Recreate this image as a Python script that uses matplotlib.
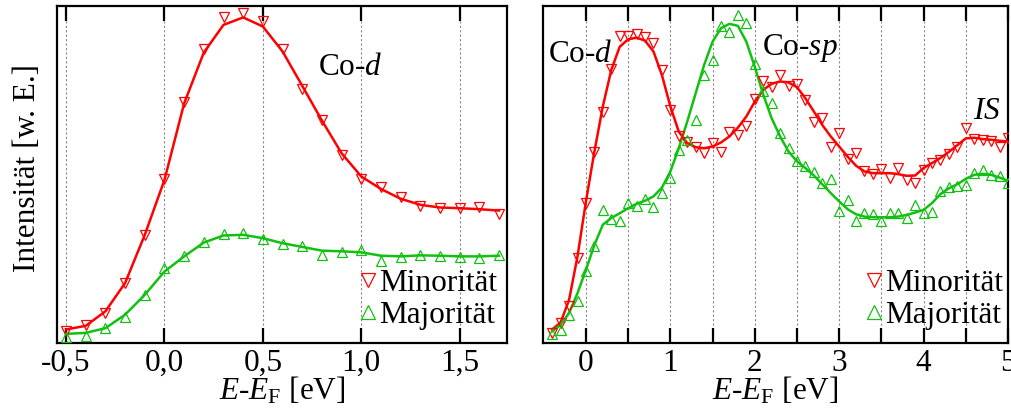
import matplotlib
matplotlib.use("Agg")
import matplotlib.pyplot as plt
import numpy as np

plt.rcParams['font.family'] = ['Liberation Serif', 'DejaVu Serif']
plt.rcParams['mathtext.fontset'] = 'custom'
plt.rcParams['mathtext.rm'] = 'Liberation Serif'
plt.rcParams['mathtext.it'] = 'Liberation Serif:italic'
plt.rcParams['font.size'] = 22.5

RED = '#ff0000'
GREEN = '#11c011'

# --- left panel: Co-d (values in % of axis height) ---
x_left = np.round(np.arange(-0.5, 1.71, 0.1), 2)
min_pts_l = [3.5, 5.4, 8.9, 17.8, 32.1, 48.7, 71.6, 87.2, 96.8, 97.8, 95.4, 87.2,
             75.3, 66.2, 55.8, 48.6, 46.4, 43.3, 40.7, 40.0, 40.0, 40.3, 38.3]
min_fit_l = [4.0, 5.1, 9.4, 17.8, 32.1, 48.4, 71.1, 86.2, 94.4, 96.6, 93.9, 86.5,
             76.3, 66.0, 56.3, 49.4, 45.7, 42.8, 41.0, 40.2, 40.0, 39.7, 39.3]
maj_pts_l = [1.8, 2.2, 4.4, 7.7, 14.3, 22.2, 25.7, 30.1, 32.4, 32.6, 30.8, 29.4,
             28.7, 26.2, 27.0, 27.7, 24.4, 25.4, 26.2, 25.7, 25.5, 25.2, 26.2]
maj_fit_l = [2.7, 3.0, 4.4, 8.4, 14.3, 21.2, 25.7, 29.8, 31.9, 32.1, 31.1, 29.6,
             28.5, 27.4, 27.2, 26.9, 25.9, 25.7, 26.0, 25.9, 25.7, 25.7, 25.9]

# --- right panel ---
x_right = np.round(np.arange(-0.4, 5.01, 0.1), 2)
min_pts_r = [3.0, 5.9, 11.1, 25.2, 41.5, 56.8, 68.4, 81.2, 91.1, 91.1, 91.6, 90.9,
             89.1, 81.0, 69.0, 61.5, 59.5, 58.3, 56.5, 59.3, 56.8, 62.7, 61.7, 64.4,
             72.3, 77.6, 75.9, 79.5, 76.3, 76.9, 72.1, 65.7, 66.7, 58.3, 62.3, 54.5,
             56.5, 50.9, 50.2, 51.6, 49.1, 51.9, 48.4, 47.4, 51.4, 53.4, 54.2, 56.1,
             58.3, 63.7, 60.5, 60.3, 59.8, 58.3, 60.8]
min_fit_r = [4.0, 6.1, 12.8, 25.7, 42.0, 56.8, 70.2, 81.0, 87.9, 90.1, 90.6, 89.7,
             86.5, 79.5, 70.2, 62.7, 59.3, 58.1, 57.8, 58.3, 59.5, 61.3, 63.9, 67.2,
             71.6, 75.1, 76.9, 77.6, 77.3, 75.9, 72.6, 68.7, 64.7, 61.3, 58.3, 55.3,
             52.6, 50.9, 50.4, 50.4, 50.4, 50.1, 49.6, 49.7, 51.9, 53.4, 54.9, 56.7,
             58.7, 60.7, 60.9, 60.5, 60.3, 60.0, 59.8]
maj_pts_r = [2.7, 4.0, 8.4, 12.4, 21.5, 28.9, 39.5, 36.8, 36.1, 41.5, 40.7, 42.7,
             40.3, 44.5, 48.9, 57.3, 60.3, 66.2, 79.5, 84.0, 94.1, 92.4, 97.3, 94.9,
             82.8, 74.9, 71.1, 62.3, 57.8, 53.9, 52.4, 50.6, 47.4, 48.6, 39.3, 42.5,
             36.1, 38.5, 38.3, 36.3, 38.5, 38.5, 37.1, 41.0, 38.5, 39.0, 45.0, 46.4,
             46.7, 47.0, 50.4, 51.2, 49.9, 49.6, 47.4]
maj_fit_r = [3.5, 5.4, 8.9, 14.8, 21.7, 29.1, 35.1, 37.1, 38.5, 40.0, 41.3, 42.2,
             43.5, 46.1, 50.9, 57.8, 65.7, 74.1, 82.5, 89.4, 93.4, 94.7, 94.1, 89.4,
             82.0, 73.7, 66.7, 61.3, 56.8, 53.9, 51.9, 49.7, 47.1, 44.5, 42.0, 39.7,
             38.2, 37.5, 37.3, 37.3, 37.3, 37.5, 38.0, 38.7, 39.5, 41.5, 44.2, 45.9,
             47.1, 48.7, 49.9, 50.2, 49.9, 49.1, 48.1]

xticks_left = [-0.5, 0.0, 0.5, 1.0, 1.5]
xticklabels_left = ['-0,5', '0,0', '0,5', '1,0', '1,5']
xticks_right = [0, 0.5, 1, 1.5, 2, 2.5, 3, 3.5, 4, 4.5, 5]
xticklabels_right = ['0', '', '1', '', '2', '', '3', '', '4', '', '5']

fig = plt.figure(figsize=(10.11, 4.12), dpi=100)
ax1 = fig.add_axes([0.0564, 0.1675, 0.445, 0.818])
ax2 = fig.add_axes([0.537, 0.1675, 0.460, 0.818])


def draw(ax, x, mp, mf, jp, jf, anchor):
    ax.plot(x, mf, color=RED, lw=1.8, zorder=3)
    ax.plot(x, jf, color=GREEN, lw=1.8, zorder=3)
    ax.plot(x, mp, 'v', ms=7.5, mfc='none', mec=RED, mew=0.9, label='Minorität', zorder=4)
    ax.plot(x, jp, '^', ms=7.5, mfc='none', mec=GREEN, mew=0.9, label='Majorität', zorder=4)
    ax.set_ylim(0, 100)
    ax.set_yticks([])
    ax.grid(True, axis='x', color='#888888', lw=0.8, linestyle=(0, (2, 2)))
    ax.tick_params(axis='x', direction='in', length=10.5, width=1.6, top=True,
                   labelsize=22.5, pad=4)
    for s in ax.spines.values():
        s.set_linewidth(1.6)
    ax.set_xlabel('$E$-$E_{\\mathrm{F}}$ [eV]', fontsize=22.5, labelpad=-2)
    ax.legend(loc='lower right', bbox_to_anchor=anchor, frameon=False, fontsize=22.5,
              handlelength=0.6, handletextpad=0.05, labelspacing=0.1, borderpad=0.3,
              borderaxespad=0.0, markerscale=1.35)


draw(ax1, x_left, min_pts_l, min_fit_l, maj_pts_l, maj_fit_l, (0.999, 0.0095))
ax1.set_xlim(-0.546, 1.74)
ax1.set_xticks(xticks_left)
ax1.set_xticklabels(xticklabels_left)
ax1.set_ylabel('Intensität [w. E.]', fontsize=22.5)
ax1.yaxis.set_label_coords(-0.034, 0.52)
ax1.text(0.58, 0.795, 'Co-$d$', transform=ax1.transAxes, fontsize=22.5)

draw(ax2, x_right, min_pts_r, min_fit_r, maj_pts_r, maj_fit_r, (1.0095, 0.0095))
ax2.set_xlim(-0.51, 5.0)
ax2.set_xticks(xticks_right)
ax2.set_xticklabels(xticklabels_right)
ax2.text(0.01, 0.835, 'Co-$d$', transform=ax2.transAxes, fontsize=22.5)
ax2.text(0.472, 0.855, 'Co-$sp$', transform=ax2.transAxes, fontsize=22.5)
ax2.text(0.925, 0.665, '$IS$', transform=ax2.transAxes, fontsize=22.5)

fig.savefig('out.png', dpi=100)
